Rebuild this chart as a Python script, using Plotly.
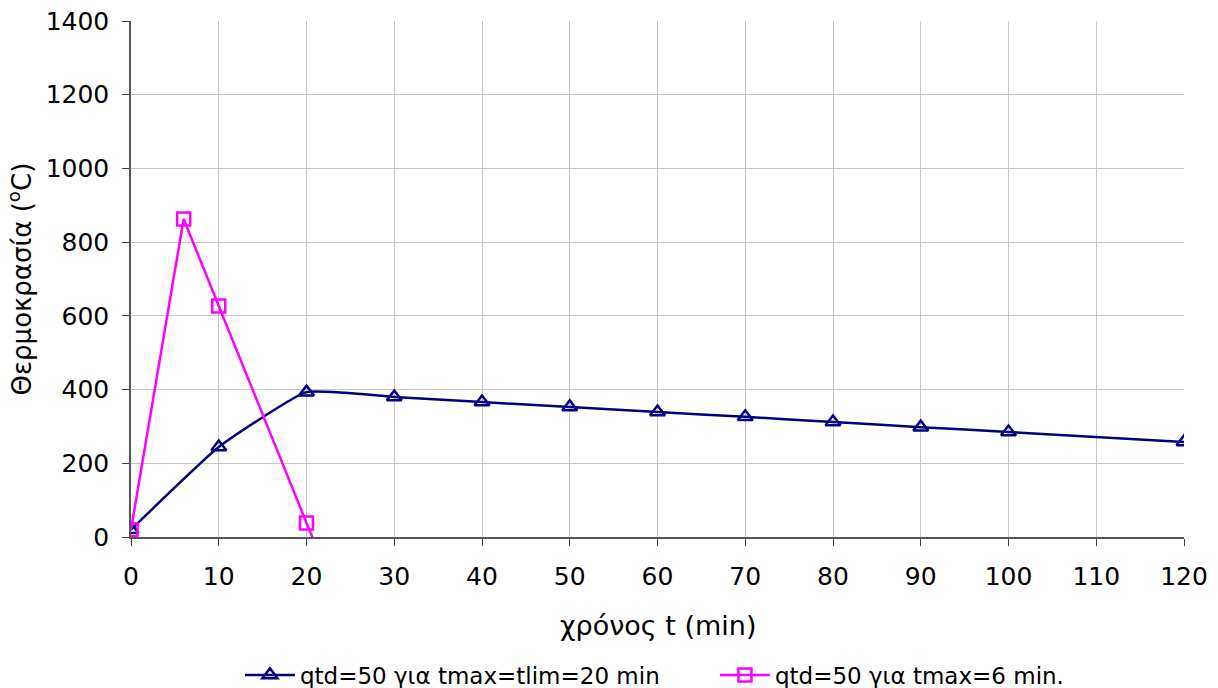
import plotly.graph_objects as go

# Data
t_navy = [0, 10, 20, 30, 40, 50, 60, 70, 80, 90, 100, 120]
temp_navy = [20, 244, 393, 380, 366, 353, 339, 326, 312, 298, 285, 258]
t_mag = [0, 6, 10, 20, 30]
temp_mag = [20, 863, 627, 38, -550]

name_navy = "qtd=50 για tmax=tlim=20 min"
name_mag = "qtd=50 για tmax=6 min."

x_ticks = list(range(0, 121, 10))
y_ticks = list(range(0, 1401, 200))

fig = go.Figure()
fig.add_trace(go.Scatter(
    x=t_navy, y=temp_navy, name=name_navy, mode="lines+markers",
    line=dict(color="#000080", width=2.5, shape="spline", smoothing=0.4),
    marker=dict(symbol="triangle-up-open", size=13, color="#000080",
                line=dict(width=2.5, color="#000080")),
))
fig.add_trace(go.Scatter(
    x=t_mag, y=temp_mag, name=name_mag, mode="lines+markers",
    line=dict(color="#FF00FF", width=2.5),
    marker=dict(symbol="square-open", size=13, color="#FF00FF",
                line=dict(width=2.5, color="#FF00FF")),
))

fig.update_layout(
    width=1218, height=688,
    margin=dict(l=131, r=34, t=21, b=151, autoexpand=False),
    paper_bgcolor="white", plot_bgcolor="white",
    font=dict(family="DejaVu Sans", color="black"),
    showlegend=True,
    legend=dict(orientation="h", x=0.197, xanchor="left", xref="container",
                y=0.019, yanchor="middle", yref="container",
                font=dict(size=23, family="DejaVu Sans"), itemwidth=50,
                traceorder="normal", entrywidth=410),
    annotations=[
        dict(text="χρόνος t (min)", xref="paper", yref="paper",
             x=0.5, y=-0.172, xanchor="center", yanchor="middle",
             showarrow=False, font=dict(size=27)),
        dict(text="Θερμοκρασία (<sup>o</sup>C)", xref="paper", yref="paper",
             x=-0.105, y=0.5, textangle=-90, xanchor="center", yanchor="middle",
             showarrow=False, font=dict(size=26)),
    ],
)
fig.update_xaxes(
    range=[0, 120], tickvals=x_ticks, ticks="outside", ticklen=7, tickcolor="#444",
    showgrid=True, gridcolor="#c8c8c8", gridwidth=1,
    showline=True, linecolor="#555", linewidth=1.5, zeroline=False,
    tickfont=dict(size=25), ticklabelstandoff=9,
)
fig.update_yaxes(
    range=[0, 1400], tickvals=y_ticks, ticks="outside", ticklen=7, tickcolor="#444",
    showgrid=True, gridcolor="#c8c8c8", gridwidth=1,
    showline=True, linecolor="#555", linewidth=1.5, zeroline=False,
    tickfont=dict(size=25), ticklabelstandoff=8,
)

fig.write_html("out.html")
